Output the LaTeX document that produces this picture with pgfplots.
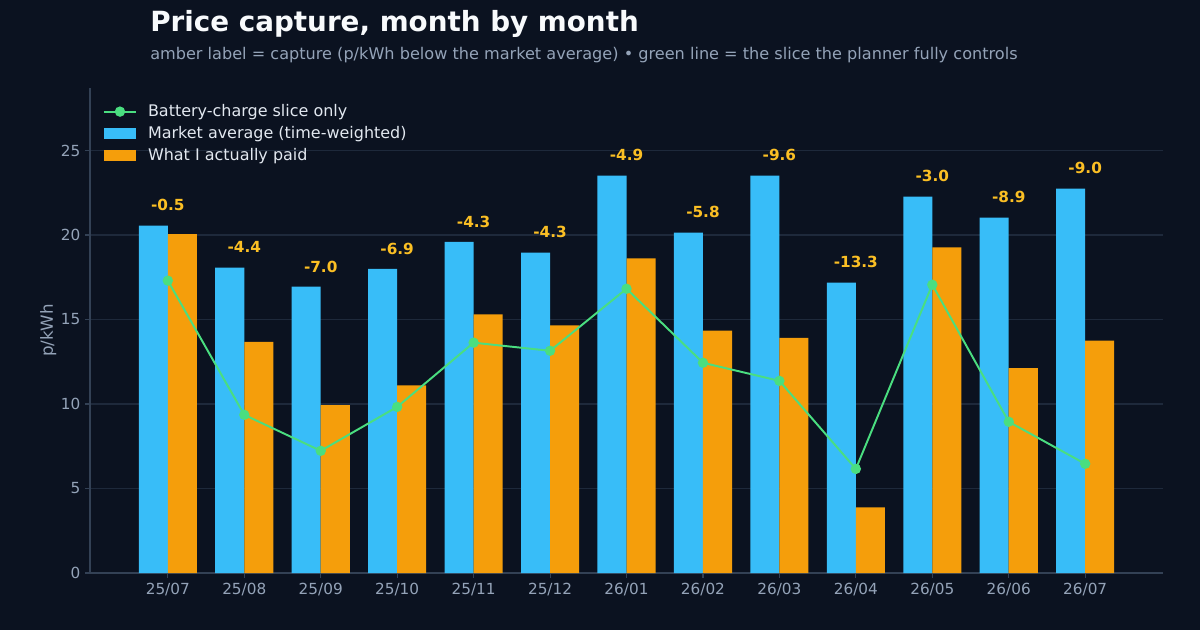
\documentclass[border=0pt]{standalone}
\usepackage{fontspec}
\setmainfont{DejaVu Sans}
\usepackage{pgfplots}
\usepackage{pgfplotstable}
\pgfplotsset{compat=1.18}

\definecolor{bg}{HTML}{0B1220}
\definecolor{mkt}{HTML}{38BDF8}
\definecolor{paid}{HTML}{F59E0B}
\definecolor{slice}{HTML}{4ADE80}
\definecolor{caplbl}{HTML}{FBBF24}
\definecolor{titlec}{HTML}{F8FAFC}
\definecolor{subc}{HTML}{94A3B8}
\definecolor{tickc}{HTML}{94A3B8}
\definecolor{legc}{HTML}{E2E8F0}
\definecolor{spine}{HTML}{334155}
\definecolor{gridc}{HTML}{1E293B}

\pgfplotsset{
  linemarklegend/.style={legend image code/.code={%
    \draw[##1, mark repeat=2, mark phase=2] plot coordinates {(0pt,0pt) (11.5pt,0pt) (23pt,0pt)};}},
  patchlegend/.style={legend image code/.code={%
    \fill[##1, draw=none] (0pt,-4pt) rectangle (23pt,4pt);}},
}

% market = time-weighted market average, cap = paid minus market, slice = battery-charge slice
\pgfplotstableread{
x month market cap slice
0  25/07 20.56 -0.5  17.30
1  25/08 18.07 -4.4  9.36
2  25/09 16.94 -7.0  7.23
3  25/10 18.00 -6.9  9.83
4  25/11 19.60 -4.3  13.63
5  25/12 18.96 -4.3  13.15
6  26/01 23.52 -4.9  16.82
7  26/02 20.14 -5.8  12.44
8  26/03 23.52 -9.6  11.37
9  26/04 17.18 -13.3 6.16
10 26/05 22.27 -3.0  17.06
11 26/06 21.03 -8.9  8.95
12 26/07 22.75 -9.0  6.46
}\data

\begin{document}
\begin{tikzpicture}
\fill[bg] (0,0) rectangle (864pt,453.6pt);
\useasboundingbox (0,0) rectangle (864pt,453.6pt);

\node[anchor=base west, text=titlec, font=\fontsize{20}{24}\selectfont\bfseries, inner sep=0pt]
  at (108pt,430.6pt) {Price capture, month by month};
\node[anchor=base west, text=subc, font=\fontsize{11.6}{14}\selectfont, inner sep=0pt]
  at (108pt,410.4pt) {amber label = capture (p/kWh below the market average) • green line = the slice the planner fully controls};

\begin{axis}[
  at={(64.8pt,41.04pt)}, anchor=south west,
  scale only axis, width=772.56pt, height=349.2pt,
  xmin=-1.018, xmax=13.018, ymin=0, ymax=28.7,
  axis x line*=bottom, axis y line*=left,
  axis line style={-, draw=spine, line width=0.8pt},
  tick align=outside, major tick length=3.5pt,
  tick style={draw=spine, line width=0.8pt},
  xtick=data, xticklabels from table={\data}{month},
  ytick={0,5,10,15,20,25},
  ticklabel style={text=tickc, font=\fontsize{11}{13}\selectfont},
  /pgf/number format/assume math mode=true,
  ymajorgrids, grid style={draw=gridc, line width=0.8pt},
  ylabel={p/kWh},
  every axis y label/.style={at={(axis description cs:-0.0389,0.5)}, rotate=90, anchor=center,
    text=tickc, font=\fontsize{12}{14}\selectfont},
  legend style={draw=none, fill=none, text=legc, font=\fontsize{11.5}{13}\selectfont,
    at={(0.008,0.978)}, anchor=north west, row sep=1.6pt,
    /tikz/every odd column/.append style={column sep=6pt}},
  legend cell align=left,
]
\addlegendimage{draw=slice, line width=1.4pt, mark=*, mark size=3pt, mark options={fill=slice, draw=slice}, linemarklegend}
\addlegendentry{Battery-charge slice only}

\addplot[ybar, bar width=0.38, bar shift=-0.19, fill=mkt, draw=none, patchlegend]
  table[x=x, y=market] {\data};
\addlegendentry{Market average (time-weighted)}

\addplot[ybar, bar width=0.38, bar shift=0.19, fill=paid, draw=none, patchlegend]
  table[x=x, y expr=\thisrow{market}+\thisrow{cap}] {\data};
\addlegendentry{What I actually paid}

\addplot[draw=slice, line width=1.4pt, mark=*, mark size=3pt, mark options={fill=slice, draw=slice}, forget plot]
  table[x=x, y=slice] {\data};

\addplot[draw=none, forget plot, point meta=explicit symbolic,
  nodes near coords,
  every node near coord/.style={anchor=center, text=caplbl, font=\fontsize{11}{13}\selectfont\bfseries}]
  table[x=x, y expr=\thisrow{market}+1.2, meta=cap] {\data};
\end{axis}
\end{tikzpicture}
\end{document}
